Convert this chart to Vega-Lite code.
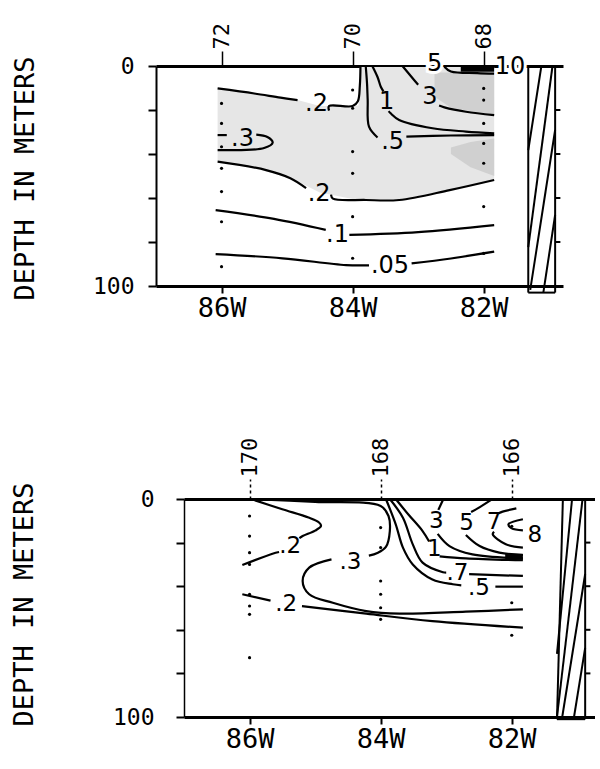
{
  "$schema": "https://vega.github.io/schema/vega-lite/v6.json",
  "background": "white",
  "padding": {"left": 9, "top": 22, "right": 0, "bottom": 0},
  "config": {
    "view": {"stroke": null},
    "axis": {"grid": false, "domainColor": "black", "tickColor": "black", "labelColor": "black", "titleColor": "black", "labelFont": "DejaVu Sans Mono", "titleFont": "DejaVu Sans Mono", "titleFontWeight": "normal"}
  },
  "datasets": {
    "topShade": [
      {"g": "s1", "lon": 86.06, "top": 10.2, "bot": 43.5},
      {"g": "s1", "lon": 85.5, "top": 12.5, "bot": 46.5},
      {"g": "s1", "lon": 85.0, "top": 14.5, "bot": 50.5},
      {"g": "s1", "lon": 84.84, "top": 15.5, "bot": 52.5},
      {"g": "s1", "lon": 84.5, "top": 18.2, "bot": 57.5},
      {"g": "s1", "lon": 84.0, "top": 18.2, "bot": 60.5},
      {"g": "s1", "lon": 83.91, "top": 18.0, "bot": 60.7},
      {"g": "s1", "lon": 83.89, "top": 0.5, "bot": 60.8},
      {"g": "s1", "lon": 83.29, "top": 0.5, "bot": 60.9},
      {"g": "s1", "lon": 82.52, "top": 0.5, "bot": 56.4},
      {"g": "s1", "lon": 81.84, "top": 0.5, "bot": 51.8},
      {"g": "s2", "lon": 82.75, "top": 3, "bot": 14},
      {"g": "s2", "lon": 82.5, "top": 3, "bot": 19},
      {"g": "s2", "lon": 82.1, "top": 3, "bot": 21},
      {"g": "s2", "lon": 81.84, "top": 3, "bot": 22},
      {"g": "s3", "lon": 82.5, "top": 37, "bot": 40},
      {"g": "s3", "lon": 82.2, "top": 34.5, "bot": 46},
      {"g": "s3", "lon": 81.84, "top": 33, "bot": 50}
    ],
    "topLines": [
      {"seg": "a", "o": 1, "lon": 86.06, "depth": 10.2},
      {"seg": "a", "o": 2, "lon": 85.5, "depth": 12.5},
      {"seg": "a", "o": 3, "lon": 85.1, "depth": 14.4},
      {"seg": "a", "o": 4, "lon": 84.84, "depth": 15.5},
      {"seg": "b", "o": 1, "lon": 84.36, "depth": 20.3},
      {"seg": "b", "o": 2, "lon": 84.36, "depth": 18.2},
      {"seg": "b", "o": 3, "lon": 84.0, "depth": 18.2},
      {"seg": "b", "o": 4, "lon": 83.92, "depth": 16.0},
      {"seg": "b", "o": 5, "lon": 83.89, "depth": 9},
      {"seg": "b", "o": 6, "lon": 83.88, "depth": 0},
      {"seg": "c", "o": 1, "lon": 86.06, "depth": 31.4},
      {"seg": "c", "o": 2, "lon": 85.92, "depth": 31.4},
      {"seg": "d", "o": 1, "lon": 85.47, "depth": 31.2},
      {"seg": "d", "o": 2, "lon": 85.3, "depth": 32.3},
      {"seg": "d", "o": 3, "lon": 85.22, "depth": 34.8},
      {"seg": "d", "o": 4, "lon": 85.35, "depth": 37.3},
      {"seg": "d", "o": 5, "lon": 85.7, "depth": 38.2},
      {"seg": "d", "o": 6, "lon": 86.06, "depth": 38.2},
      {"seg": "e", "o": 1, "lon": 86.06, "depth": 43.5},
      {"seg": "e", "o": 2, "lon": 85.32, "depth": 47.3},
      {"seg": "e", "o": 3, "lon": 84.95, "depth": 51},
      {"seg": "e", "o": 4, "lon": 84.71, "depth": 55.5},
      {"seg": "f", "o": 1, "lon": 84.33, "depth": 58.5},
      {"seg": "f", "o": 2, "lon": 84.3, "depth": 60.3},
      {"seg": "f", "o": 3, "lon": 83.8, "depth": 60.9},
      {"seg": "f", "o": 4, "lon": 83.29, "depth": 60.9},
      {"seg": "f", "o": 5, "lon": 82.52, "depth": 56.4},
      {"seg": "f", "o": 6, "lon": 81.84, "depth": 51.8},
      {"seg": "g", "o": 1, "lon": 86.09, "depth": 65.5},
      {"seg": "g", "o": 2, "lon": 85.2, "depth": 69.5},
      {"seg": "g", "o": 3, "lon": 84.41, "depth": 74.5},
      {"seg": "h", "o": 1, "lon": 84.05, "depth": 76.8},
      {"seg": "h", "o": 2, "lon": 83.0, "depth": 75.5},
      {"seg": "h", "o": 3, "lon": 81.84, "depth": 72.3},
      {"seg": "i", "o": 1, "lon": 86.09, "depth": 85.5},
      {"seg": "i", "o": 2, "lon": 85.07, "depth": 87.4},
      {"seg": "i", "o": 3, "lon": 84.1, "depth": 90.5},
      {"seg": "i", "o": 4, "lon": 83.75, "depth": 90.6},
      {"seg": "j", "o": 1, "lon": 83.1, "depth": 89.7},
      {"seg": "j", "o": 2, "lon": 82.5, "depth": 87.5},
      {"seg": "j", "o": 3, "lon": 81.84, "depth": 84.4},
      {"seg": "k", "o": 1, "lon": 83.8, "depth": 0},
      {"seg": "k", "o": 2, "lon": 83.78, "depth": 8},
      {"seg": "k", "o": 3, "lon": 83.77, "depth": 15.5},
      {"seg": "k", "o": 4, "lon": 83.75, "depth": 27.6},
      {"seg": "k", "o": 5, "lon": 83.62, "depth": 32.5},
      {"seg": "l", "o": 1, "lon": 83.18, "depth": 32.1},
      {"seg": "l", "o": 2, "lon": 82.5, "depth": 31.6},
      {"seg": "l", "o": 3, "lon": 81.84, "depth": 31.4},
      {"seg": "m", "o": 1, "lon": 83.7, "depth": 0},
      {"seg": "m", "o": 2, "lon": 83.62, "depth": 5},
      {"seg": "m", "o": 3, "lon": 83.57, "depth": 9.4},
      {"seg": "m", "o": 4, "lon": 83.53, "depth": 11.5},
      {"seg": "n", "o": 1, "lon": 83.45, "depth": 20.5},
      {"seg": "n", "o": 2, "lon": 83.42, "depth": 21.5},
      {"seg": "n", "o": 3, "lon": 83.29, "depth": 24.5},
      {"seg": "n", "o": 4, "lon": 82.78, "depth": 28.3},
      {"seg": "n", "o": 5, "lon": 82.27, "depth": 29.8},
      {"seg": "n", "o": 6, "lon": 81.84, "depth": 30.6},
      {"seg": "o", "o": 1, "lon": 83.24, "depth": 0},
      {"seg": "o", "o": 2, "lon": 83.1, "depth": 5},
      {"seg": "o", "o": 3, "lon": 83.0, "depth": 8.5},
      {"seg": "p", "o": 1, "lon": 82.68, "depth": 18},
      {"seg": "p", "o": 2, "lon": 82.6, "depth": 18.8},
      {"seg": "p", "o": 3, "lon": 82.27, "depth": 20.8},
      {"seg": "p", "o": 4, "lon": 81.84, "depth": 22.3},
      {"seg": "q", "o": 1, "lon": 82.6, "depth": 0.3},
      {"seg": "q", "o": 2, "lon": 82.5, "depth": 2.5},
      {"seg": "q", "o": 3, "lon": 82.1, "depth": 3.2},
      {"seg": "q", "o": 4, "lon": 81.84, "depth": 3.5}
    ],
    "topThick": [
      {"seg": "t", "o": 1, "lon": 82.35, "depth": 1.5},
      {"seg": "t", "o": 2, "lon": 81.84, "depth": 1.5}
    ],
    "topCoast": [
      {"lon": 81.32, "lon2": 81.32, "depth": 0, "depth2": 103},
      {"lon": 80.91, "lon2": 80.91, "depth": 0, "depth2": 103},
      {"lon": 81.32, "lon2": 80.91, "depth": 103, "depth2": 103},
      {"lon": 81.32, "lon2": 81.12, "depth": 38.2, "depth2": 0},
      {"lon": 81.32, "lon2": 80.95, "depth": 82.3, "depth2": 0},
      {"lon": 81.29, "lon2": 80.91, "depth": 101.8, "depth2": 29.1},
      {"lon": 81.09, "lon2": 80.91, "depth": 103, "depth2": 67.7},
      {"lon": 80.91, "lon2": 80.83, "depth": 20, "depth2": 20},
      {"lon": 80.91, "lon2": 80.83, "depth": 40, "depth2": 40},
      {"lon": 80.91, "lon2": 80.83, "depth": 60, "depth2": 60},
      {"lon": 80.91, "lon2": 80.83, "depth": 80, "depth2": 80}
    ],
    "topDots": [
      {"lon": 86, "depth": 17.0}, {"lon": 86, "depth": 26.1}, {"lon": 86, "depth": 36.7},
      {"lon": 86, "depth": 46.5}, {"lon": 86, "depth": 57.1}, {"lon": 86, "depth": 70.8},
      {"lon": 86, "depth": 91.2},
      {"lon": 84, "depth": 10.9}, {"lon": 84, "depth": 19.2}, {"lon": 84, "depth": 38.9},
      {"lon": 84, "depth": 48.8}, {"lon": 84, "depth": 68.5}, {"lon": 84, "depth": 87.4},
      {"lon": 82, "depth": 10.2}, {"lon": 82, "depth": 15.5}, {"lon": 82, "depth": 26.1},
      {"lon": 82, "depth": 35.2}, {"lon": 82, "depth": 44.2}, {"lon": 82, "depth": 63.9},
      {"lon": 82, "depth": 85.2}
    ],
    "topLabels": [
      {"text": ".2", "lon": 84.55, "depth": 17.3},
      {"text": ".3", "lon": 85.68, "depth": 33.2},
      {"text": ".5", "lon": 83.39, "depth": 34.4},
      {"text": "1", "lon": 83.48, "depth": 16.2},
      {"text": "3", "lon": 82.82, "depth": 14.2},
      {"text": ".2", "lon": 84.51, "depth": 58.2},
      {"text": ".1", "lon": 84.23, "depth": 76.8},
      {"text": ".05", "lon": 83.43, "depth": 90.8}
    ],
    "topHalo": [
      {"text": "5", "lon": 82.75, "depth": -1},
      {"text": "10", "lon": 81.6, "depth": 0.5}
    ],
    "botLines": [
      {"seg": "A1", "o": 1, "lon": 85.98, "depth": 0},
      {"seg": "A1", "o": 2, "lon": 85.5, "depth": 4.7},
      {"seg": "A1", "o": 3, "lon": 85.1, "depth": 8.5},
      {"seg": "A1", "o": 4, "lon": 84.94, "depth": 10.8},
      {"seg": "A1", "o": 5, "lon": 84.91, "depth": 12.4},
      {"seg": "A1", "o": 6, "lon": 85.0, "depth": 14.5},
      {"seg": "A1", "o": 7, "lon": 85.19, "depth": 17.0},
      {"seg": "A1", "o": 8, "lon": 85.24, "depth": 18.0},
      {"seg": "A2", "o": 1, "lon": 85.55, "depth": 24.3},
      {"seg": "A2", "o": 2, "lon": 85.65, "depth": 25.1},
      {"seg": "A2", "o": 3, "lon": 86.11, "depth": 30.3},
      {"seg": "B1", "o": 1, "lon": 85.97, "depth": 0},
      {"seg": "B1", "o": 2, "lon": 85.0, "depth": 1.3},
      {"seg": "B1", "o": 3, "lon": 84.0, "depth": 3.2},
      {"seg": "B1", "o": 4, "lon": 83.88, "depth": 7.8},
      {"seg": "B1", "o": 5, "lon": 83.86, "depth": 14.7},
      {"seg": "B1", "o": 6, "lon": 83.92, "depth": 22.0},
      {"seg": "B1", "o": 7, "lon": 84.05, "depth": 24.8},
      {"seg": "B1", "o": 8, "lon": 84.18, "depth": 26.0},
      {"seg": "B2", "o": 1, "lon": 84.75, "depth": 27.7},
      {"seg": "B2", "o": 2, "lon": 85.09, "depth": 31.5},
      {"seg": "B2", "o": 3, "lon": 85.19, "depth": 37.6},
      {"seg": "B2", "o": 4, "lon": 85.09, "depth": 43.7},
      {"seg": "B2", "o": 5, "lon": 84.73, "depth": 47.6},
      {"seg": "B2", "o": 6, "lon": 84.22, "depth": 51.4},
      {"seg": "B2", "o": 7, "lon": 83.71, "depth": 52.6},
      {"seg": "B2", "o": 8, "lon": 82.7, "depth": 51.7},
      {"seg": "B2", "o": 9, "lon": 81.83, "depth": 50.6},
      {"seg": "C1", "o": 1, "lon": 86.11, "depth": 43.7},
      {"seg": "C1", "o": 2, "lon": 85.68, "depth": 46.6},
      {"seg": "C2", "o": 1, "lon": 85.2, "depth": 49.1},
      {"seg": "C2", "o": 2, "lon": 84.22, "depth": 52.6},
      {"seg": "C2", "o": 3, "lon": 83.21, "depth": 56.0},
      {"seg": "C2", "o": 4, "lon": 81.83, "depth": 59.0},
      {"seg": "D1", "o": 1, "lon": 83.92, "depth": 0},
      {"seg": "D1", "o": 2, "lon": 83.77, "depth": 11.6},
      {"seg": "D1", "o": 3, "lon": 83.66, "depth": 22.3},
      {"seg": "D1", "o": 4, "lon": 83.51, "depth": 30.0},
      {"seg": "D1", "o": 5, "lon": 83.21, "depth": 36.9},
      {"seg": "D1", "o": 6, "lon": 82.9, "depth": 39.1},
      {"seg": "D1", "o": 7, "lon": 82.77, "depth": 39.6},
      {"seg": "D2", "o": 1, "lon": 82.25, "depth": 40.2},
      {"seg": "D2", "o": 2, "lon": 81.83, "depth": 40.2},
      {"seg": "E1", "o": 1, "lon": 83.86, "depth": 0},
      {"seg": "E1", "o": 2, "lon": 83.66, "depth": 8.6},
      {"seg": "E1", "o": 3, "lon": 83.51, "depth": 20.8},
      {"seg": "E1", "o": 4, "lon": 83.36, "depth": 29.2},
      {"seg": "E1", "o": 5, "lon": 83.05, "depth": 33.6},
      {"seg": "E1", "o": 6, "lon": 83.0, "depth": 33.8},
      {"seg": "E2", "o": 1, "lon": 82.65, "depth": 34.5},
      {"seg": "E2", "o": 2, "lon": 81.83, "depth": 35.3},
      {"seg": "F1", "o": 1, "lon": 83.77, "depth": 0},
      {"seg": "F1", "o": 2, "lon": 83.58, "depth": 7.0},
      {"seg": "F1", "o": 3, "lon": 83.36, "depth": 14.7},
      {"seg": "F1", "o": 4, "lon": 83.26, "depth": 19.5},
      {"seg": "F2", "o": 1, "lon": 83.1, "depth": 26.3},
      {"seg": "F2", "o": 2, "lon": 82.7, "depth": 27.2},
      {"seg": "F2", "o": 3, "lon": 81.83, "depth": 28.1},
      {"seg": "G1", "o": 1, "lon": 83.05, "depth": 0.5},
      {"seg": "G1", "o": 2, "lon": 83.12, "depth": 5.0},
      {"seg": "G2", "o": 1, "lon": 83.13, "depth": 16.0},
      {"seg": "G2", "o": 2, "lon": 82.95, "depth": 21.6},
      {"seg": "G2", "o": 3, "lon": 82.6, "depth": 25.4},
      {"seg": "G2", "o": 4, "lon": 81.83, "depth": 27.2},
      {"seg": "H1", "o": 1, "lon": 82.32, "depth": 0.5},
      {"seg": "H1", "o": 2, "lon": 82.52, "depth": 4.3},
      {"seg": "H1", "o": 3, "lon": 82.62, "depth": 6.0},
      {"seg": "H2", "o": 1, "lon": 82.7, "depth": 16.5},
      {"seg": "H2", "o": 2, "lon": 82.49, "depth": 21.6},
      {"seg": "H2", "o": 3, "lon": 82.19, "depth": 24.6},
      {"seg": "H2", "o": 4, "lon": 81.83, "depth": 25.7},
      {"seg": "I1", "o": 1, "lon": 81.93, "depth": 4.3},
      {"seg": "I1", "o": 2, "lon": 82.14, "depth": 5.8},
      {"seg": "I1", "o": 3, "lon": 82.2, "depth": 6.5},
      {"seg": "I2", "o": 1, "lon": 82.27, "depth": 15.0},
      {"seg": "I2", "o": 2, "lon": 82.29, "depth": 16.2},
      {"seg": "I2", "o": 3, "lon": 82.09, "depth": 20.8},
      {"seg": "I2", "o": 4, "lon": 81.83, "depth": 22.3},
      {"seg": "J", "o": 1, "lon": 81.83, "depth": 9.3},
      {"seg": "J", "o": 2, "lon": 82.05, "depth": 11.6},
      {"seg": "J", "o": 3, "lon": 82.0, "depth": 13.5},
      {"seg": "J", "o": 4, "lon": 81.83, "depth": 14.4}
    ],
    "botThick": [
      {"seg": "T", "o": 1, "lon": 82.1, "depth": 26.5},
      {"seg": "T", "o": 2, "lon": 81.83, "depth": 26.5}
    ],
    "botCoast": [
      {"lon": 81.22, "lon2": 81.31, "depth": 0, "depth2": 101},
      {"lon": 80.88, "lon2": 80.88, "depth": 0, "depth2": 101},
      {"lon": 81.31, "lon2": 80.88, "depth": 101, "depth2": 101},
      {"lon": 81.31, "lon2": 81.08, "depth": 71, "depth2": 0},
      {"lon": 81.31, "lon2": 80.92, "depth": 100, "depth2": 0},
      {"lon": 81.23, "lon2": 80.88, "depth": 100, "depth2": 34.4},
      {"lon": 81.05, "lon2": 80.88, "depth": 100, "depth2": 68.3},
      {"lon": 80.88, "lon2": 80.8, "depth": 20, "depth2": 20},
      {"lon": 80.88, "lon2": 80.8, "depth": 40, "depth2": 40},
      {"lon": 80.88, "lon2": 80.8, "depth": 60, "depth2": 60},
      {"lon": 80.88, "lon2": 80.8, "depth": 80, "depth2": 80}
    ],
    "botDots": [
      {"lon": 86, "depth": 7.8}, {"lon": 86, "depth": 17.0}, {"lon": 86, "depth": 24.6},
      {"lon": 86, "depth": 30.0}, {"lon": 86, "depth": 43.7}, {"lon": 86, "depth": 49.1},
      {"lon": 86, "depth": 52.9}, {"lon": 86, "depth": 72.8},
      {"lon": 84, "depth": 13.1}, {"lon": 84, "depth": 22.3}, {"lon": 84, "depth": 37.6},
      {"lon": 84, "depth": 43.7}, {"lon": 84, "depth": 49.9}, {"lon": 84, "depth": 55.2},
      {"lon": 82, "depth": 12.5}, {"lon": 82, "depth": 47.6}, {"lon": 82, "depth": 62.5}
    ],
    "botLabels": [
      {"text": ".2", "lon": 85.38, "depth": 21.6},
      {"text": ".3", "lon": 84.46, "depth": 28.7},
      {"text": ".2", "lon": 85.44, "depth": 48.0},
      {"text": "3", "lon": 83.15, "depth": 10.0},
      {"text": "5", "lon": 82.69, "depth": 11.0},
      {"text": "7", "lon": 82.27, "depth": 10.6},
      {"text": "8", "lon": 81.65, "depth": 16.7},
      {"text": "1", "lon": 83.18, "depth": 23.0},
      {"text": ".7", "lon": 82.83, "depth": 33.8},
      {"text": ".5", "lon": 82.5, "depth": 41.0}
    ]
  },
  "vconcat": [
    {
      "spacing": 0,
      "hconcat": [
        {"width": 1, "height": 1, "data": {"values": []}, "mark": "point", "encoding": {}},
        {
          "width": 407,
          "height": 220,
          "resolve": {"axis": {"x": "independent", "y": "independent"}},
          "layer": [
            {
              "data": {"name": "topShade"},
              "mark": {"type": "area", "interpolate": "linear"},
              "encoding": {
                "x": {"field": "lon", "type": "quantitative", "scale": {"domain": [87, 80.79], "nice": false, "zero": false},
                  "axis": {"orient": "bottom", "values": [86, 84, 82], "labelExpr": "datum.value + 'W'", "title": null, "domainWidth": 3, "tickWidth": 2, "tickSize": 7, "labelFontSize": 27, "labelPadding": 2}},
                "y": {"field": "top", "type": "quantitative", "scale": {"domain": [0, 100], "reverse": true, "nice": false, "zero": false},
                  "axis": {"orient": "left", "values": [0, 20, 40, 60, 80, 100], "labelExpr": "datum.value == 0 || datum.value == 100 ? datum.label : ''", "title": "DEPTH IN METERS", "titleFontSize": 27, "titleX": -131, "titleY": 112, "titleAngle": 270, "titleAlign": "center", "titleBaseline": "middle", "tickSize": 8, "tickWidth": 2, "domainWidth": 2, "labelFontSize": 23, "labelPadding": 14}},
                "y2": {"field": "bot"},
                "color": {"field": "g", "type": "nominal", "scale": {"domain": ["s1", "s2", "s3"], "range": ["#e6e6e6", "#d0d0d0", "#d0d0d0"]}, "legend": null}
              }
            },
            {
              "data": {"name": "topLines"},
              "mark": {"type": "line", "interpolate": "catmull-rom", "color": "black", "strokeWidth": 2.2},
              "encoding": {
                "x": {"field": "lon", "type": "quantitative", "axis": null},
                "y": {"field": "depth", "type": "quantitative", "axis": null},
                "detail": {"field": "seg"},
                "order": {"field": "o"}
              }
            },
            {
              "data": {"name": "topThick"},
              "mark": {"type": "line", "color": "black", "strokeWidth": 5},
              "encoding": {
                "x": {"field": "lon", "type": "quantitative", "axis": null},
                "y": {"field": "depth", "type": "quantitative", "axis": null},
                "order": {"field": "o"}
              }
            },
            {
              "data": {"name": "topCoast"},
              "mark": {"type": "rule", "color": "black", "strokeWidth": 2},
              "encoding": {
                "x": {"field": "lon", "type": "quantitative", "axis": null},
                "x2": {"field": "lon2"},
                "y": {"field": "depth", "type": "quantitative", "axis": null},
                "y2": {"field": "depth2"}
              }
            },
            {
              "data": {"name": "topDots"},
              "mark": {"type": "point", "filled": true, "color": "black", "size": 10, "opacity": 1},
              "encoding": {
                "x": {"field": "lon", "type": "quantitative",
                  "axis": {"orient": "top", "values": [86, 84, 82], "labelExpr": "datum.value == 86 ? '72' : datum.value == 84 ? '70' : '68'", "labelAngle": 270, "labelAlign": "left", "labelBaseline": "middle", "tickSize": 15, "tickWidth": 1.5, "domainWidth": 3, "labelFontSize": 22, "labelPadding": 2, "title": null}},
                "y": {"field": "depth", "type": "quantitative", "axis": null}
              }
            },
            {
              "data": {"name": "topLabels"},
              "mark": {"type": "text", "font": "DejaVu Sans", "fontSize": 24, "align": "center", "baseline": "middle", "color": "black"},
              "encoding": {
                "x": {"field": "lon", "type": "quantitative", "axis": null},
                "y": {"field": "depth", "type": "quantitative", "axis": null},
                "text": {"field": "text"}
              }
            },
            {
              "data": {"name": "topHalo"},
              "mark": {"type": "text", "font": "DejaVu Sans", "fontSize": 24, "align": "center", "baseline": "middle", "color": "white", "stroke": "white", "strokeWidth": 6},
              "encoding": {
                "x": {"field": "lon", "type": "quantitative", "axis": null},
                "y": {"field": "depth", "type": "quantitative", "axis": null},
                "text": {"field": "text"}
              }
            },
            {
              "data": {"name": "topHalo"},
              "mark": {"type": "text", "font": "DejaVu Sans", "fontSize": 24, "align": "center", "baseline": "middle", "color": "black"},
              "encoding": {
                "x": {"field": "lon", "type": "quantitative", "axis": null},
                "y": {"field": "depth", "type": "quantitative", "axis": null},
                "text": {"field": "text"}
              }
            }
          ]
        }
      ]
    },
    {
      "spacing": 0,
      "hconcat": [
        {"width": 1, "height": 1, "data": {"values": []}, "mark": "point", "encoding": {}},
        {
          "width": 411,
          "height": 218,
          "resolve": {"axis": {"x": "independent", "y": "independent"}},
          "layer": [
            {
              "data": {"name": "botLines"},
              "mark": {"type": "line", "interpolate": "catmull-rom", "color": "black", "strokeWidth": 2.2},
              "encoding": {
                "x": {"field": "lon", "type": "quantitative", "scale": {"domain": [87, 80.73], "nice": false, "zero": false},
                  "axis": {"orient": "bottom", "values": [86, 84, 82], "labelExpr": "datum.value + 'W'", "title": null, "domainWidth": 3, "tickWidth": 2, "tickSize": 7, "labelFontSize": 27, "labelPadding": 2}},
                "y": {"field": "depth", "type": "quantitative", "scale": {"domain": [0, 100], "reverse": true, "nice": false, "zero": false},
                  "axis": {"orient": "left", "values": [0, 20, 40, 60, 80, 100], "labelExpr": "datum.value == 0 || datum.value == 100 ? datum.label : ''", "title": "DEPTH IN METERS", "titleFontSize": 27, "titleX": -160, "titleY": 105, "titleAngle": 270, "titleAlign": "center", "titleBaseline": "middle", "tickSize": 8, "tickWidth": 2, "domainWidth": 1.5, "labelFontSize": 23, "labelPadding": 22}},
                "detail": {"field": "seg"},
                "order": {"field": "o"}
              }
            },
            {
              "data": {"name": "botThick"},
              "mark": {"type": "line", "color": "black", "strokeWidth": 6},
              "encoding": {
                "x": {"field": "lon", "type": "quantitative", "axis": null},
                "y": {"field": "depth", "type": "quantitative", "axis": null},
                "order": {"field": "o"}
              }
            },
            {
              "data": {"name": "botCoast"},
              "mark": {"type": "rule", "color": "black", "strokeWidth": 2},
              "encoding": {
                "x": {"field": "lon", "type": "quantitative", "axis": null},
                "x2": {"field": "lon2"},
                "y": {"field": "depth", "type": "quantitative", "axis": null},
                "y2": {"field": "depth2"}
              }
            },
            {
              "data": {"name": "botDots"},
              "mark": {"type": "point", "filled": true, "color": "black", "size": 10, "opacity": 1},
              "encoding": {
                "x": {"field": "lon", "type": "quantitative",
                  "axis": {"orient": "top", "values": [86, 84, 82], "labelExpr": "datum.value == 86 ? '170' : datum.value == 84 ? '168' : '166'", "labelAngle": 270, "labelAlign": "left", "labelBaseline": "middle", "tickSize": 20, "tickWidth": 1.5, "tickDash": [3, 3], "domainWidth": 3, "labelFontSize": 22, "labelPadding": 2, "title": null}},
                "y": {"field": "depth", "type": "quantitative", "axis": null}
              }
            },
            {
              "data": {"name": "botLabels"},
              "mark": {"type": "text", "font": "DejaVu Sans", "fontSize": 23, "align": "center", "baseline": "middle", "color": "black"},
              "encoding": {
                "x": {"field": "lon", "type": "quantitative", "axis": null},
                "y": {"field": "depth", "type": "quantitative", "axis": null},
                "text": {"field": "text"}
              }
            }
          ]
        }
      ]
    }
  ],
  "spacing": 116
}
